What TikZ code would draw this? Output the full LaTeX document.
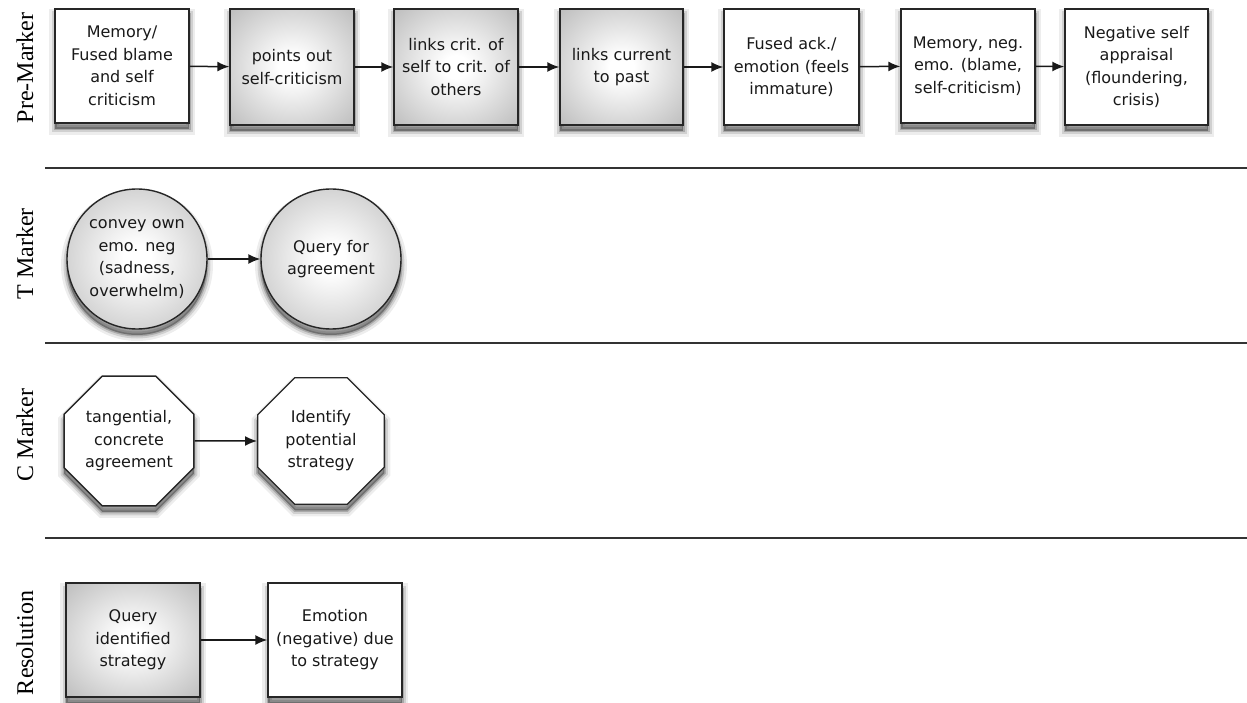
\documentclass[tikz,border=0pt]{standalone}
\usepackage{fontspec}
\setmainfont{DejaVu Sans}
\newfontfamily\lanefont{Liberation Serif}
\usetikzlibrary{arrows.meta,shapes.geometric}

% soft glow: white centre fading to grey at the rim
\pgfdeclareradialshading{softglow}{\pgfpoint{0bp}{0bp}}{%
  color(0bp)=(white); color(5bp)=(white); color(50bp)=(black!38)}

\begin{document}
\begin{tikzpicture}[x=1pt,y=-1pt,
  every node/.style={font=\fontsize{16}{22.5}\selectfont, align=center, text=black!90},
  % layered soft shadow below each shape
  softshadow/.style={
    preaction={fill=black, draw=black, line width=12pt, opacity=0.07, transform canvas={yshift=-6pt}},
    preaction={fill=black, draw=black, line width=7pt, opacity=0.12, transform canvas={yshift=-6pt}},
    preaction={fill=black, draw=black, line width=3pt, opacity=0.19, transform canvas={yshift=-6pt}}},
  shapebase/.style={softshadow, draw=black!85, line width=1.4pt, inner sep=2pt},
  plainbox/.style={shapebase, rectangle, fill=white},
  greybox/.style={shapebase, rectangle, shading=softglow},
  greycircle/.style={shapebase, circle, minimum size=140pt, shading=softglow},
  octa/.style={shapebase, regular polygon, regular polygon sides=8, minimum size=137pt, fill=white},
  lanelabel/.style={font=\lanefont\fontsize{24}{24}\selectfont, rotate=90, anchor=base, text=black},
  lanerule/.style={draw=black!80, line width=1.4pt},
  flow/.style={draw=black!90, line width=1.5pt, -{Latex[length=12pt,width=10pt]}}
]
\useasboundingbox (0,0) rectangle (1247,703);

% swimlane dividers
\draw[lanerule] (45,168) -- (1247,168);
\draw[lanerule] (45,343) -- (1247,343);
\draw[lanerule] (45,538) -- (1247,538);

% lane titles
\node[lanelabel] (lpre) at (33,68) {Pre-Marker};
\node[lanelabel] (lt) at (33,254) {T Marker};
\node[lanelabel] (lc) at (33,435) {C Marker};
\node[lanelabel] (lres) at (33,643) {Resolution};

% Pre-Marker lane
\node[plainbox, minimum width=134pt, minimum height=114pt] (p1) at (122,66) {Memory/\\Fused blame\\and self\\criticism};
\node[greybox, minimum width=124pt, minimum height=116pt] (p2) at (292,67) {points out\\self-criticism};
\node[greybox, minimum width=124pt, minimum height=116pt] (p3) at (456,67) {links crit. of\\self to crit. of\\others};
\node[greybox, minimum width=123pt, minimum height=116pt] (p4) at (621.5,67) {links current\\to past};
\node[plainbox, minimum width=135pt, minimum height=116pt] (p5) at (791.5,67) {Fused ack./\\emotion (feels\\immature)};
\node[plainbox, minimum width=134pt, minimum height=114pt] (p6) at (968,66) {Memory, neg.\\emo. (blame,\\self-criticism)};
\node[plainbox, minimum width=143pt, minimum height=116pt] (p7) at (1136.5,67) {Negative self\\appraisal\\(floundering,\\crisis)};

\draw[flow] (p1) -- (p2);
\draw[flow] (p2) -- (p3);
\draw[flow] (p3) -- (p4);
\draw[flow] (p4) -- (p5);
\draw[flow] (p5) -- (p6);
\draw[flow] (p6) -- (p7);

% T Marker lane
\node[greycircle] (t1) at (137,259) {convey own\\emo. neg\\(sadness,\\overwhelm)};
\node[greycircle] (t2) at (331,259) {Query for\\agreement};
\draw[flow] (t1) -- (t2);

% C Marker lane
\node[octa] (c1) at (129,441) {tangential,\\concrete\\agreement};
\node[octa] (c2) at (321,441) {Identify\\potential\\strategy};
\draw[flow] (c1) -- (c2);

% Resolution lane
\node[greybox, minimum width=134pt, minimum height=114pt] (r1) at (133,640) {Query\\identified\\strategy};
\node[plainbox, minimum width=134pt, minimum height=114pt] (r2) at (335,640) {Emotion\\(negative) due\\to strategy};
\draw[flow] (r1) -- (r2);
\end{tikzpicture}
\end{document}
